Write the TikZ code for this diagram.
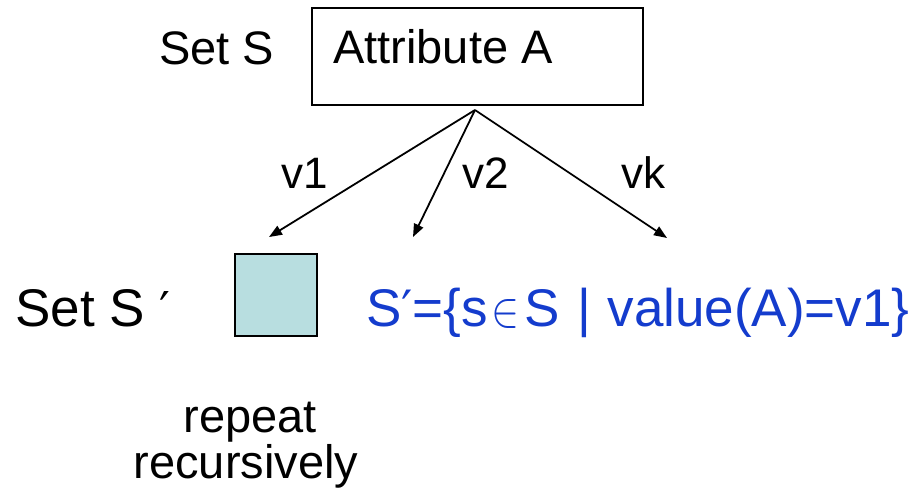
\documentclass[tikz,border=0pt]{standalone}
\usepackage{fontspec}
\setmainfont{Liberation Sans}
\newfontfamily\symfont{DejaVu Sans}
\usetikzlibrary{arrows.meta}
\definecolor{boxfill}{RGB}{184,222,224}
\definecolor{setblue}{RGB}{20,60,205}
\newcommand{\fsz}[1]{\fontsize{#1}{#1}\selectfont}
\newcommand{\primemark}[1]{{\symfont\fsz{#1}′}}
% element-of sign drawn in a thin stroke at the size of the set text
\newcommand{\elemof}{{\fsz{10}\scalebox{4.2}[5]{$\in$}}}
\begin{document}
\begin{tikzpicture}[x=1pt,y=-1pt,
  txt/.style={inner sep=0pt,font=\fsz{47}},
  lbl/.style={inner sep=0pt,font=\fsz{44}},
  big/.style={inner sep=0pt,font=\fsz{53}},
  branch/.style={line width=1.8pt,-{Triangle[length=13pt,width=10pt]}}]
\useasboundingbox (0,0) rectangle (915,499);
% the attribute test at the root
\node[draw,line width=2pt,minimum width=331pt,minimum height=97pt,inner sep=0pt] (attr) at (477.5,56.5) {};
\node[txt,anchor=base west] (attrlbl) at (333,63) {Attribute A};
\node[txt,anchor=base west] (setS) at (159,64) {Set S};
% one branch per attribute value
\coordinate (apex) at (475,110);
\coordinate (t1) at (269,237);
\coordinate (t2) at (413,237);
\coordinate (tk) at (667,238);
\draw[branch] (apex) -- (t1);
\draw[branch] (apex) -- (t2);
\draw[branch] (apex) -- (tk);
\node[lbl,anchor=base west] (v1) at (281,188) {v1};
\node[lbl,anchor=base west] (v2) at (462,188) {v2};
\node[lbl,anchor=base west] (vk) at (621,188) {vk};
% the subset reached along v1
\node[draw,line width=2.4pt,fill=boxfill,minimum width=82pt,minimum height=82pt,inner sep=0pt] (sub) at (276,295) {};
\node[big,anchor=base west] (setSp) at (15,326) {Set S \primemark{48}};
\node[big,anchor=base west,text=setblue] (rule) at (366,326)
  {S\primemark{50}=\{s\kern3pt\elemof\kern5pt S\kern3pt\ |\kern2pt\ value(A)=v1\}};
\node[txt,anchor=base] (rep) at (250,432) {repeat};
\node[txt,anchor=base] (rec) at (246,478) {recursively};
\end{tikzpicture}
\end{document}
